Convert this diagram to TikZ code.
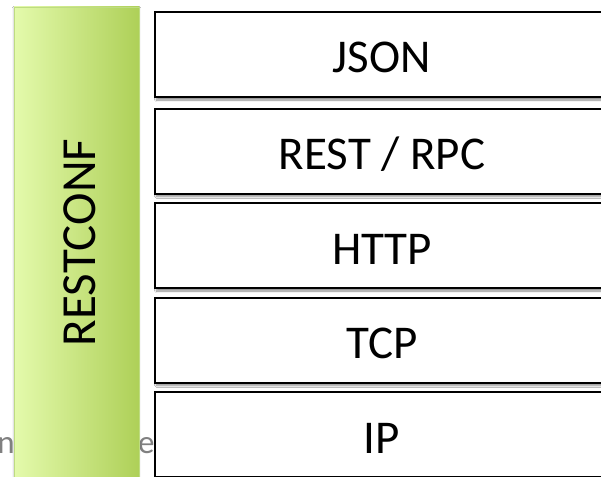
\documentclass[tikz,border=0pt]{standalone}
\usepackage{fontspec}
\setmainfont{Carlito}
\usetikzlibrary{shadows.blur}
\definecolor{barleft}{RGB}{228,250,172}
\definecolor{barright}{RGB}{174,208,88}
\definecolor{barline}{RGB}{190,220,130}
\definecolor{ghost}{RGB}{128,128,128}
\tikzset{
  layerbox/.style={draw=black, line width=2pt, fill=white,
    blur shadow={shadow xshift=1.5pt, shadow yshift=-3pt, shadow blur steps=6, shadow opacity=45}},
  layertext/.style={anchor=base, inner sep=0pt, font=\fontsize{47}{47}\selectfont},
  ghosttext/.style={inner sep=0pt, text=ghost, font=\fontsize{33}{33}\selectfont}
}
\begin{document}
\begin{tikzpicture}[x=1pt, y=-1pt]
\clip (0,0) rectangle (601,476);
\fill[white] (0,0) rectangle (601,476);

% partly covered caption behind the green bar
\node[ghosttext, anchor=base east] (capl) at (15,453) {n};
\node[ghosttext, anchor=base west] (capr) at (138,453) {e};

% vertical RESTCONF bar
\path[blur shadow={shadow xshift=0pt, shadow yshift=-1pt, shadow blur steps=4, shadow opacity=30}]
  (14,7) rectangle (139,490);
\shade[left color=barleft, right color=barright, draw=barline, line width=0.8pt]
  (14,7) rectangle (139,490);
\node[layertext, rotate=90, font=\fontsize{49}{49}\selectfont] (rc) at (95,242.5) {RESTCONF};

% protocol layers
\foreach \top/\name/\lbl in {12/json/JSON, 108.5/rest/{REST / RPC}, 203/http/HTTP, 297.5/tcp/TCP, 392/ip/IP}{
  \draw[layerbox] (155,\top) rectangle (612,\top+85);
  \node[layertext] (\name) at (382,\top+61) {\lbl};
}
\end{tikzpicture}
\end{document}
